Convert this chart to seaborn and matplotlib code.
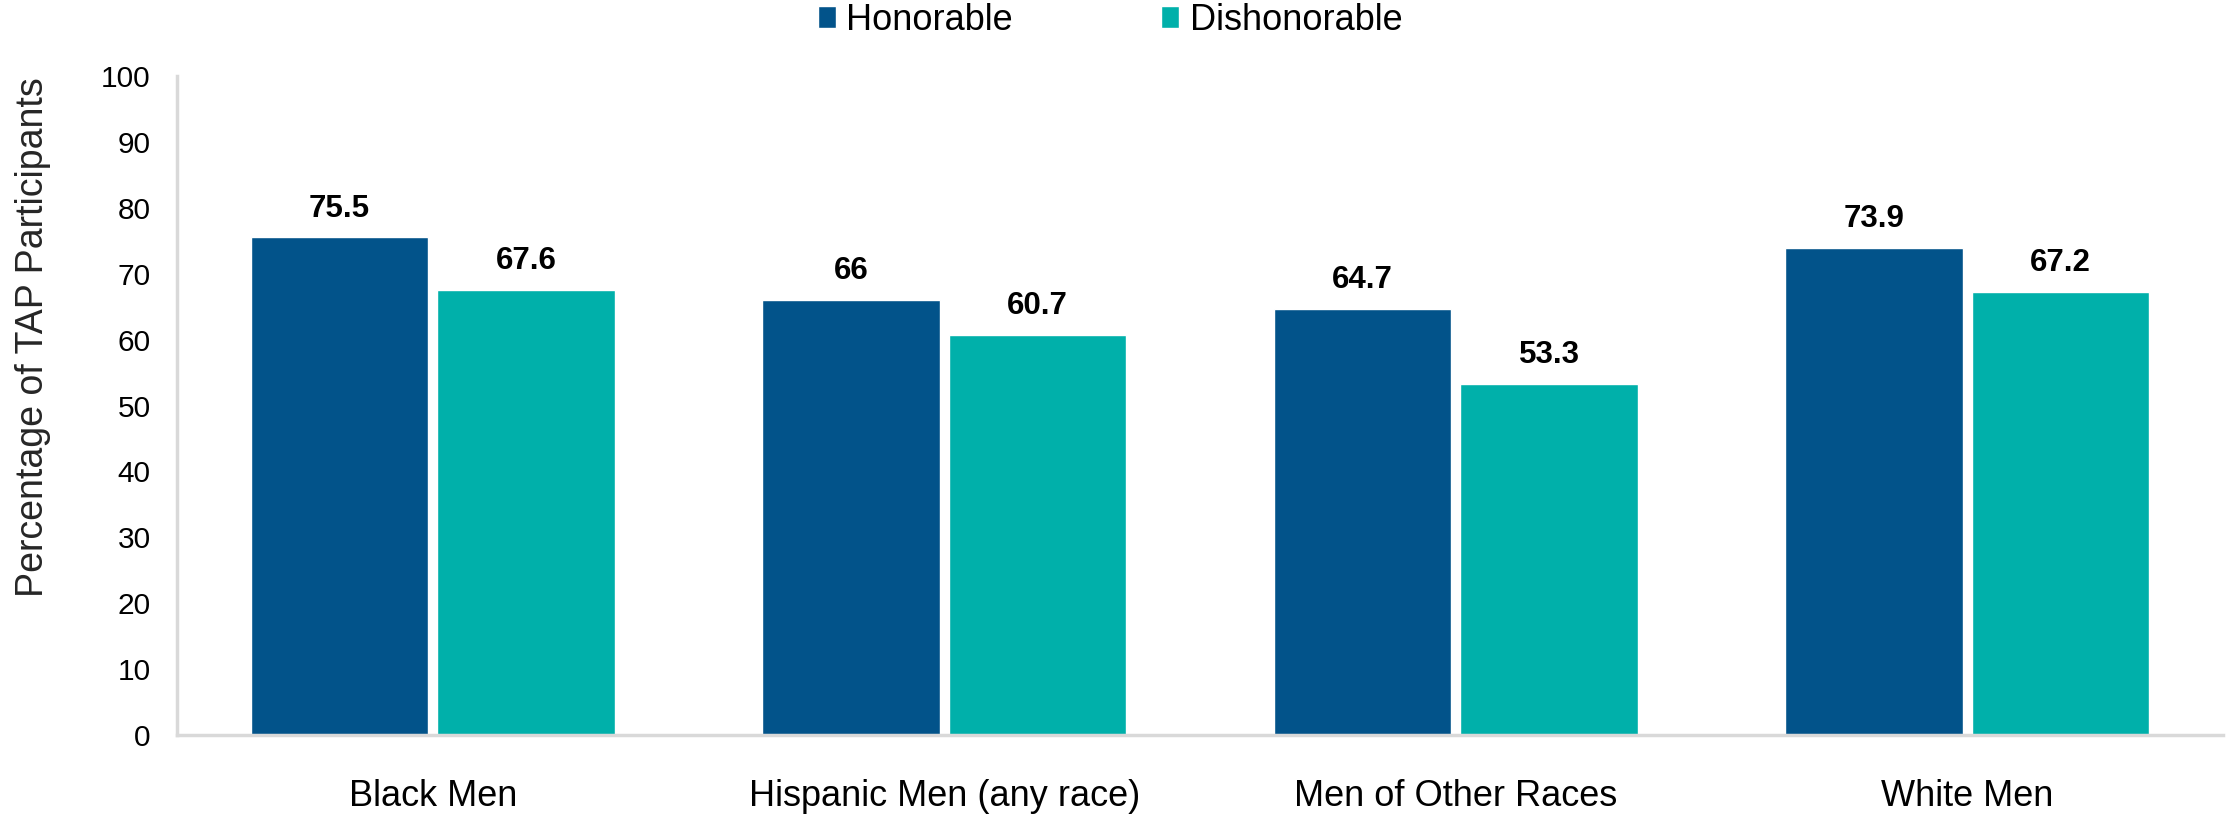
import pandas as pd
import numpy as np
import seaborn as sns
import matplotlib.pyplot as plt

# values
groups = ['Black Men', 'Hispanic Men (any race)', 'Men of Other Races', 'White Men']
honorable = [75.5, 66, 64.7, 73.9]
dishonorable = [67.6, 60.7, 53.3, 67.2]
series = ['Honorable', 'Dishonorable']
colors = ['#02538A', '#00B0AA']

df = pd.DataFrame({
    'Group': groups * 2,
    'Discharge': ['Honorable'] * len(groups) + ['Dishonorable'] * len(groups),
    'Percent': honorable + dishonorable,
})

sns.set_style('white')
plt.rcParams['font.family'] = ['Liberation Sans', 'DejaVu Sans']
plt.rcParams['text.color'] = 'black'
plt.rcParams['xtick.color'] = 'black'
plt.rcParams['ytick.color'] = 'black'

fig = plt.figure(figsize=(22.29, 8.22), dpi=100)
ax = fig.add_axes([0.0794, 0.1058, 0.9179, 0.8017])

sns.barplot(data=df, x='Group', y='Percent', hue='Discharge', hue_order=series,
            palette=colors, width=0.73, gap=0.05, saturation=1, ax=ax)

# value labels on top of bars
for cont in ax.containers:
    labels = [f'{v:g}' for v in cont.datavalues]
    ax.bar_label(cont, labels=labels, padding=10, fontsize=22.5, fontweight='bold')

ax.set_ylim(0, 100)
ax.set_yticks(np.arange(0, 101, 10))
ax.set_xlim(-0.5, len(groups) - 0.5)
ax.set_xlabel('')
ax.set_ylabel('Percentage of TAP Participants', fontsize=27)
ax.yaxis.set_label_coords(-0.0615, 0.604)
ax.tick_params(axis='y', labelsize=21.5, length=0, pad=19)
ax.tick_params(axis='x', which='major', labelsize=26, length=0, pad=32)
ax.set_xticks(np.arange(-0.5, len(groups), 1), minor=True)
ax.tick_params(axis='x', which='minor', length=8, width=2, color='#D9D9D9')

for side in ['top', 'right']:
    ax.spines[side].set_visible(False)
for side in ['left', 'bottom']:
    ax.spines[side].set_color('#D9D9D9')
    ax.spines[side].set_linewidth(2.5)

handles, labels = ax.get_legend_handles_labels()
ax.legend(handles, labels, loc='center', bbox_to_anchor=(0.498, 0.975),
          bbox_transform=fig.transFigure, ncol=2, frameon=False, fontsize=26,
          handlelength=0.5, handleheight=0.55, handletextpad=0.3, columnspacing=4.1,
          borderaxespad=0, borderpad=0)

plt.savefig('out.png', dpi=100)
